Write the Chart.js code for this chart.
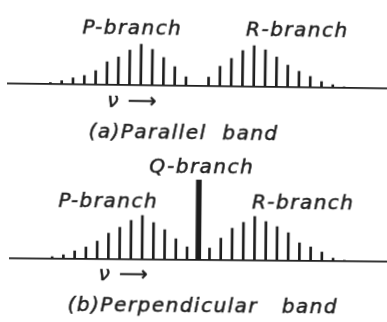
<!DOCTYPE html>
<html lang="en">
  <head>
    <meta charset="UTF-8" />
    <title>Parallel and perpendicular bands</title>
    <style>
      body {
        margin: 0;
        background: #fff;
      }
      canvas {
        position: absolute;
        left: 0;
      }
      #parallelChart {
        top: 0;
        transform-origin: 197px 86px;
        transform: rotate(0.75deg);
      }
      #perpendicularChart {
        top: 150px;
        transform-origin: 197px 110px;
        transform: rotate(0.5deg);
      }
    </style>
  </head>
  <body>
    <canvas id="parallelChart" width="387" height="150"></canvas>
    <canvas id="perpendicularChart" width="387" height="172"></canvas>

    <script src="https://cdn.jsdelivr.net/npm/chart.js"></script>

    <script>
      // rotational lines, numbered outwards from the band centre
      const pLines = [-13, -12, -11, -10, -9, -8, -7, -6, -5, -4, -3, -2, -1];
      const qLine = [0];
      const rLines = [1, 2, 3, 4, 5, 6, 7, 8, 9, 10, 11, 12, 13];

      // line intensities, parallel band
      const parallelP = [1.5, 3.5, 6.5, 9, 14, 23, 28, 35, 41, 36, 28, 19, 9];
      const parallelR = [9, 20, 28, 36, 41, 37, 30, 22, 16, 11, 6, 3, 1];

      // line intensities, perpendicular band
      const perpendicularP = [2, 4, 8, 12, 18, 26, 32, 39, 44, 37, 30, 21, 13];
      const perpendicularQ = [80];
      const perpendicularR = [12, 22, 32, 38, 44, 39, 34, 28, 18, 14, 9, 3, 1];

      const ink = "#1d1d1d";

      function lines(positions, values, width) {
        return {
          data: positions.map((x, i) => ({ x: x, y: values[i] })),
          backgroundColor: ink,
          borderWidth: 0,
          barThickness: width,
          grouped: false,
        };
      }

      // writes the branch names and captions at data coordinates
      const captions = {
        id: "captions",
        afterDraw(chart, args, opts) {
          const { ctx } = chart;
          const x = chart.scales.x;
          const y = chart.scales.y;
          ctx.save();
          ctx.fillStyle = ink;
          ctx.strokeStyle = ink;
          ctx.lineWidth = 0.5;
          ctx.font = "oblique 20px 'DejaVu Sans'";
          ctx.letterSpacing = "1.5px";
          ctx.textAlign = "center";
          opts.items.forEach((item) => {
            const px = x.getPixelForValue(item.x);
            const py = y.getPixelForValue(item.y);
            ctx.fillText(item.text, px, py);
            ctx.strokeText(item.text, px, py);
          });
          ctx.restore();
        },
      };

      function bandChart(id, datasets, yMax, padding, items) {
        return new Chart(document.getElementById(id), {
          type: "bar",
          data: { datasets: datasets },
          plugins: [captions],
          options: {
            responsive: false,
            animation: false,
            layout: { padding: padding },
            scales: {
              x: {
                type: "linear",
                min: -16.75,
                max: 16.8,
                offset: false,
                grid: { display: false, drawTicks: false },
                ticks: { display: false },
                border: { display: true, color: ink, width: 1.8 },
              },
              y: { display: false, min: 0, max: yMax },
            },
            plugins: {
              legend: { display: false },
              tooltip: { enabled: false },
              captions: { items: items },
            },
          },
        });
      }

      bandChart(
        "parallelChart",
        [lines(pLines, parallelP, 2), lines(rLines, parallelR, 2)],
        50,
        { left: 8, right: 0, top: 36, bottom: 64 },
        [
          { text: "P-branch", x: -5.8, y: 51 },
          { text: "R-branch", x: 8.8, y: 51 },
          { text: "ν ⟶", x: -5.7, y: -22 },
          { text: "(a)Parallel  band", x: -1.15, y: -53 },
        ]
      );

      bandChart(
        "perpendicularChart",
        [
          lines(pLines, perpendicularP, 2),
          lines(qLine, perpendicularQ, 5),
          lines(rLines, perpendicularR, 2),
        ],
        90,
        { left: 10, right: 0, top: 20, bottom: 62 },
        [
          { text: "Q-branch", x: 0.25, y: 87 },
          { text: "P-branch", x: -8.05, y: 52 },
          { text: "R-branch", x: 9.3, y: 52 },
          { text: "ν ⟶", x: -6.6, y: -21 },
          { text: "(b)Perpendicular   band", x: 0.45, y: -52 },
        ]
      );
    </script>
  </body>
</html>
